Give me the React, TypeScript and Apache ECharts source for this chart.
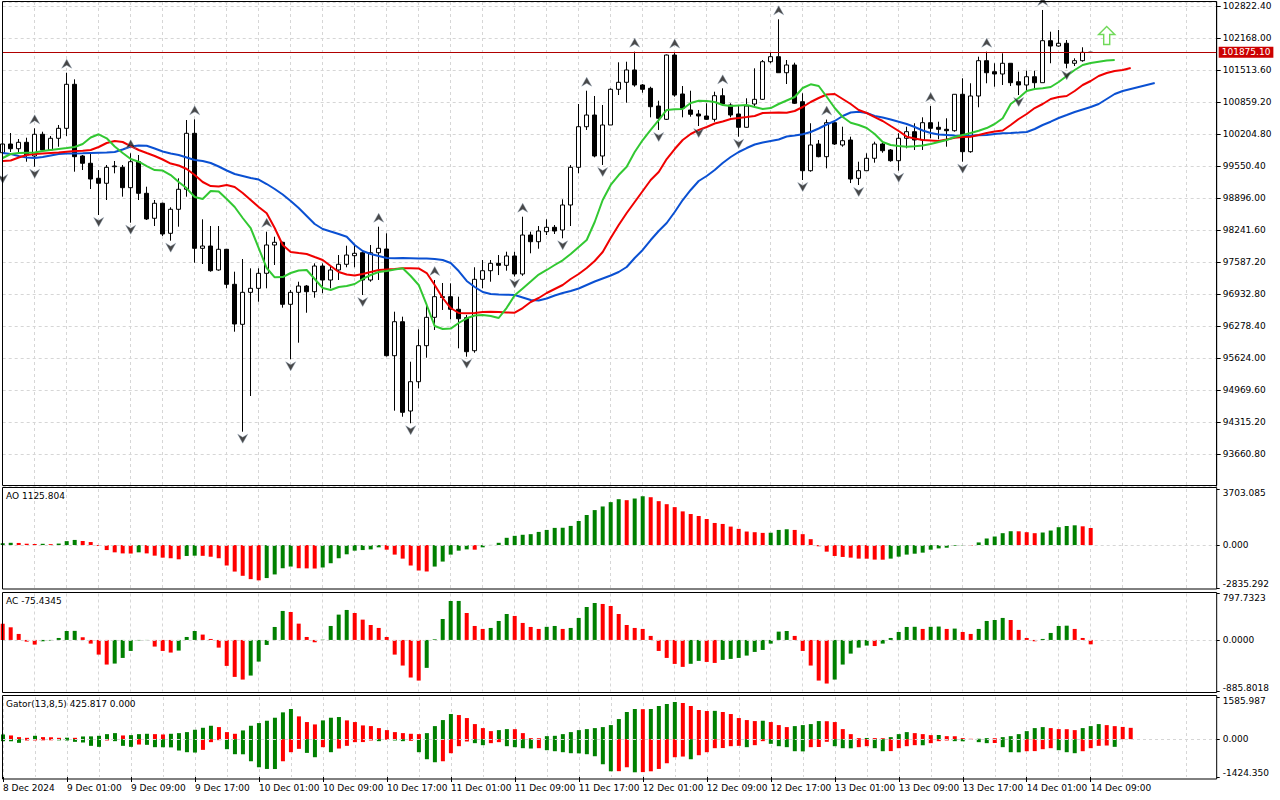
import React, { useEffect, useRef } from "react";
import * as echarts from "echarts";

// ---------- DATA ----------
const timeLabels = [
  "8 Dec 2024", "9 Dec 01:00", "9 Dec 09:00", "9 Dec 17:00", "10 Dec 01:00", "10 Dec 09:00",
  "10 Dec 17:00", "11 Dec 01:00", "11 Dec 09:00", "11 Dec 17:00", "12 Dec 01:00", "12 Dec 09:00",
  "12 Dec 17:00", "13 Dec 01:00", "13 Dec 09:00", "13 Dec 17:00", "14 Dec 01:00", "14 Dec 09:00",
];

const opens = [
  99822, 100000, 99904, 100035, 99755, 100199, 99878, 100117, 100321, 101221,
  99755, 99606, 99299, 99197, 99536, 99524, 99107, 99638, 98992, 98481,
  98788, 98174, 98665, 99074, 100219, 97867, 97914, 97424, 97847, 97131,
  96313, 96967, 97049, 97356, 97935, 97990, 96722, 96967, 97096, 96980,
  97505, 97219, 97424, 97540, 97716, 97777, 97219, 97777, 97853, 95671,
  96366, 94540, 95139, 95876, 96456, 96878, 96878, 96620, 96448, 95773,
  97233, 97409, 97560, 97519, 97710, 97342, 98139, 98002, 98207, 98297,
  98242, 98753, 99524, 100354, 100593, 99755, 100389, 101119, 101262, 101514,
  101207, 101139, 100777, 100505, 101820, 101023, 100696, 100614, 100573, 100505,
  100988, 100798, 100614, 100342, 100818, 100914, 101683, 101786, 101458, 101616,
  100865, 99454, 100000, 99741, 100436, 99980, 100082, 99299, 99454, 99708,
  100000, 99878, 99659, 100117, 100252, 100082, 100436, 100342, 100301, 100272,
  101017, 99843, 100982, 101704, 101479, 101432, 101651, 101274, 101207, 101376,
  101254, 102113, 102004, 102060, 101651, 101704, 101875.1,
];
const highs = [
  100082, 100225, 100102, 100129, 100321, 100252, 100164, 100389, 101458, 101323,
  99775, 99796, 99468, 99571, 99653, 99571, 99810, 99775, 99127, 98855,
  98800, 98706, 99299, 100491, 100505, 98460, 98323, 98323, 97853, 97389,
  97648, 97458, 97458, 98207, 98104, 98002, 97015, 97184, 97117, 97560,
  97560, 97526, 97730, 97920, 97949, 97833, 97935, 98309, 98174, 96571,
  96469, 95548, 96211, 96728, 97219, 97158, 97151, 96878, 96503, 97479,
  97628, 97628, 97730, 97798, 97798, 98513, 98207, 98323, 98460, 98344,
  98869, 99571, 100818, 101090, 100982, 100798, 101139, 101671, 101683, 101888,
  101227, 101172, 100886, 101830, 101870, 101186, 101090, 100696, 100833, 101070,
  101139, 100833, 100777, 100935, 101548, 101718, 101867, 102550, 101718, 101663,
  101037, 100424, 100082, 100500, 100470, 100354, 100150, 99638, 99810, 100047,
  100027, 99898, 100219, 100354, 100424, 100546, 100777, 100456, 100526, 101017,
  101344, 101242, 101786, 101888, 101651, 101855, 101651, 101479, 101499, 101499,
  102741, 102297, 102332, 102127, 101753, 101978, 101875.1,
];
const lows = [
  99430, 99837, 99837, 99638, 99536, 99863, 99863, 99945, 100164, 99434,
  99468, 99080, 98548, 98855, 99401, 98923, 98391, 98855, 98446, 98323,
  98119, 98023, 98309, 98923, 97573, 97546, 97389, 97409, 97049, 96162,
  94117, 94847, 96775, 97049, 97526, 96653, 95597, 95937, 96550, 96857,
  96947, 97049, 97219, 97479, 97479, 96912, 97184, 97219, 95655, 94546,
  94423, 94289, 95004, 95630, 96197, 96606, 96415, 95822, 95650, 95732,
  97049, 97184, 97320, 97409, 97290, 97305, 97765, 97859, 98139, 98160,
  98072, 98323, 99401, 100287, 99728, 99571, 100389, 101002, 100845, 101172,
  101049, 100546, 100287, 100491, 100967, 100546, 100559, 100368, 100491, 100456,
  100777, 100546, 100150, 100334, 100777, 100900, 101651, 101458, 101227, 100818,
  99264, 99434, 99728, 99503, 99980, 99945, 99202, 99162, 99454, 99618,
  99822, 99638, 99454, 99912, 99878, 99878, 100117, 100096, 99945, 100252,
  99638, 99822, 100751, 101242, 101172, 101207, 101186, 101002, 101070, 101119,
  101254, 101651, 101990, 101548, 101595, 101683, 101875.1,
];
const closes = [
  100000, 99904, 100035, 99775, 100199, 99878, 100117, 100321, 101221, 99741,
  99606, 99284, 99197, 99524, 99550, 99107, 99638, 98992, 98467, 98788,
  98160, 98665, 99074, 100219, 97867, 97914, 97409, 97847, 97131, 96319,
  96967, 97049, 97356, 97935, 97990, 96722, 96967, 97096, 96980, 97505,
  97219, 97424, 97540, 97730, 97765, 97219, 97777, 97867, 95671, 96366,
  94513, 95139, 95876, 96456, 96878, 96861, 96620, 96427, 95753, 97233,
  97409, 97560, 97519, 97710, 97342, 98139, 98002, 98221, 98297, 98221,
  98753, 99524, 100354, 100593, 99755, 100389, 101119, 101262, 101514, 101207,
  101119, 100763, 100526, 101820, 101002, 100730, 100608, 100573, 100505, 100988,
  100818, 100593, 100342, 100777, 100914, 101683, 101786, 101458, 101616, 100833,
  99454, 99980, 99741, 100436, 100000, 100068, 99284, 99454, 99708, 100000,
  99863, 99659, 100117, 100252, 100082, 100436, 100321, 100301, 100272, 101017,
  99843, 100982, 101704, 101458, 101432, 101651, 101254, 101207, 101376, 101254,
  102113, 102004, 102060, 101651, 101704, 101875.1, 101875.1,
];

// Alligator (already shifted forward: jaw +8, teeth +5, lips +3)
const jaw = [
  99816, 99796, 99755, 99724, 99714, 99734, 99765, 99796, 99806, 99806,
  99810, 99816, 99822, 99826, 99837, 99888, 99949, 99970, 99965, 99908,
  99847, 99806, 99775, 99724, 99673, 99653, 99612, 99540, 99458, 99387,
  99346, 99305, 99274, 99182, 99080, 98967, 98835, 98691, 98528, 98364,
  98262, 98211, 98160, 98104, 97935, 97812, 97751, 97710, 97669, 97663,
  97667, 97665, 97660, 97658, 97650, 97628, 97567, 97403, 97199, 97076,
  96974, 96933, 96923, 96918, 96912, 96861, 96810, 96800, 96841, 96902,
  96953, 96994, 97045, 97117, 97188, 97250, 97311, 97383, 97485, 97669,
  97833, 98037, 98221, 98385, 98610, 98855, 99060, 99244, 99346, 99469,
  99612, 99734, 99837, 99918, 99990, 100031, 100062, 100092, 100154, 100174,
  100199, 100246, 100317, 100399, 100471, 100573, 100644, 100661, 100634, 100573,
  100542, 100501, 100456, 100409, 100348, 100276, 100225, 100194, 100184, 100174,
  100170, 100174, 100180, 100184, 100205, 100219, 100225, 100235, 100246, 100307,
  100389, 100456, 100532, 100593, 100655, 100706, 100757, 100818, 100921, 101023,
  101084, 101125, 101166, 101207, 101248,
];
const teeth = [
  99652, 99663, 99724, 99775, 99796, 99806, 99816, 99826, 99843, 99857,
  99863, 99878, 99939, 100021, 100062, 100041, 99959, 99878, 99816, 99755,
  99683, 99601, 99560, 99489, 99366, 99223, 99141, 99131, 99162, 99121,
  98998, 98855, 98712, 98583, 98282, 97935, 97792, 97771, 97751, 97689,
  97628, 97505, 97383, 97331, 97311, 97342, 97383, 97424, 97434, 97444,
  97458, 97460, 97455, 97362, 97117, 96851, 96646, 96544, 96538, 96544,
  96565, 96571, 96565, 96554, 96550, 96646, 96769, 96851, 96953, 97035,
  97117, 97240, 97342, 97464, 97607, 97792, 98078, 98344, 98589, 98814,
  99039, 99264, 99428, 99693, 99898, 100082, 100205, 100287, 100348, 100419,
  100460, 100511, 100532, 100552, 100573, 100634, 100640, 100642, 100638, 100675,
  100757, 100859, 100941, 101013, 101023, 100921, 100818, 100696, 100634, 100552,
  100471, 100368, 100266, 100150, 100113, 100082, 100072, 100062, 100092, 100129,
  100143, 100150, 100184, 100225, 100256, 100276, 100389, 100511, 100614, 100736,
  100818, 100921, 100961, 100982, 101084, 101207, 101289, 101391, 101452, 101493,
  101514, 101554,
];
const lips = [
  99714, 99796, 99816, 99822, 99826, 99857, 99878, 99898, 99918, 99939,
  100000, 100133, 100199, 100117, 99949, 99816, 99693, 99638, 99550, 99468,
  99458, 99366, 99223, 99094, 98916, 98875, 99039, 99030, 98875, 98712,
  98487, 98282, 97873, 97464, 97274, 97280, 97362, 97413, 97424, 97240,
  97055, 97014, 97076, 97096, 97137, 97240, 97321, 97383, 97403, 97434,
  97458, 97301, 97117, 96708, 96278, 96217, 96225, 96340, 96436, 96493,
  96503, 96483, 96442, 96650, 96906, 97047, 97188, 97330, 97424, 97526,
  97622, 97751, 97894, 98037, 98405, 98855, 99162, 99366, 99536, 99837,
  100082, 100287, 100491, 100696, 100710, 100716, 100839, 100886, 100880, 100859,
  100798, 100777, 100788, 100798, 100757, 100716, 100736, 100818, 100890, 100961,
  101145, 101221, 101186, 100967, 100736, 100552, 100436, 100389, 100327, 100205,
  100041, 99980, 99959, 99945, 99955, 99970, 100000, 100041, 100082, 100143,
  100184, 100225, 100272, 100327, 100409, 100526, 100818, 100941, 101084, 101125,
  101139, 101166, 101268, 101391, 101514, 101616, 101657, 101683, 101708, 101718,
];

const fractalUp = [4, 8, 16, 24, 33, 47, 54, 65, 73, 79, 84, 90, 97, 103, 116, 123, 130];
const fractalDown = [0, 4, 12, 16, 21, 30, 36, 45, 51, 58, 64, 70, 75, 82, 87, 92, 100, 107, 112, 120, 127, 133];
const buySignal = [[138, 102219]];
const lastPrice = 101875.1;

const aoValues = [
  120, 150, 140, 90, 70, 85, 60, 100, 260, 340,
  270, 200, -60, -330, -480, -550, -560, -480, -550, -700,
  -830, -870, -940, -720, -700, -710, -770, -870, -1350, -1750,
  -2030, -2250, -2330, -2180, -1940, -1530, -1420, -1530, -1540, -1550,
  -1480, -1200, -870, -610, -370, -330, -285, -150, -305, -630,
  -895, -1350, -1680, -1745, -1420, -1090, -630, -370, -285, -305,
  -150, 10, 150, 480, 610, 680, 720, 870, 1000, 1135,
  1145, 1265, 1590, 1985, 2310, 2550, 2835, 3030, 2965, 3075,
  3225, 3160, 2900, 2700, 2505, 2225, 2050, 1920, 1720, 1460,
  1395, 1220, 1070, 895, 850, 805, 815, 1000, 1045, 1000,
  720, 390, -80, -435, -720, -785, -830, -895, -900, -960,
  -965, -895, -765, -630, -570, -500, -305, -220, -175, -45,
  -20, -40, 175, 435, 565, 785, 915, 910, 850, 785,
  830, 960, 1180, 1260, 1305, 1240, 1125.804,
];
const acValues = [
  280, 217, 103, -29, -80, -23, -11, 34, 154, 156,
  46, -63, -252, -423, -406, -309, -189, -8, -3, -114,
  -189, -217, -183, 51, 154, 92, 17, -132, -446, -635,
  -681, -612, -372, -86, 223, 498, 480, 280, 51, -40,
  5, 240, 435, 515, 463, 349, 257, 206, 51, -252,
  -440, -646, -698, -480, 11, 360, 669, 670, 463, 240,
  189, 206, 326, 446, 412, 292, 223, 189, 225, 240,
  189, 206, 378, 566, 635, 618, 583, 446, 257, 206,
  189, 69, -189, -309, -412, -463, -410, -360, -378, -395,
  -343, -326, -309, -269, -206, -172, -63, 143, 154, 69,
  -189, -440, -698, -749, -681, -423, -235, -132, -97, -105,
  -63, 34, 137, 223, 226, 189, 225, 230, 189, 195,
  137, 103, 189, 326, 343, 378, 343, 172, 34, -23,
  17, 120, 240, 245, 189, 34, -75.4345,
];
const gatorUpper = [
  176, 139, 76, 50, 126, 76, 70, 50, 55, 50,
  101, 105, 126, 189, 227, 139, 151, 189, 202, 189,
  176, 202, 227, 265, 353, 428, 504, 454, 265, 202,
  328, 504, 605, 693, 806, 1008, 1134, 857, 643, 554,
  706, 806, 832, 706, 643, 517, 491, 416, 340, 265,
  227, 202, 189, 227, 491, 718, 945, 907, 794, 567,
  416, 302, 340, 378, 375, 227, 38, 35, 113, 126,
  189, 265, 340, 378, 416, 454, 529, 756, 1021, 1134,
  1128, 1135, 1247, 1323, 1399, 1361, 1247, 1096, 1058, 1065,
  1021, 945, 794, 718, 680, 693, 643, 529, 454, 491,
  529, 567, 680, 675, 643, 378, 189, 38, 45, 40,
  35, 76, 189, 265, 227, 189, 151, 156, 113, 110,
  38, 13, 15, 38, 35, 76, 113, 189, 302, 416,
  454, 416, 378, 375, 340, 416, 491, 567, 528, 490,
  460, 425.817,
];
const gatorLower = [
  -76, -80, -139, -50, -48, -45, -42, -45, -50, -101,
  -126, -252, -290, -50, -76, -252, -290, -202, -214, -302,
  -305, -310, -428, -491, -504, -403, -113, -38, -378, -567,
  -570, -832, -1058, -1121, -1125, -832, -491, -365, -517, -680,
  -302, -491, -353, -252, -113, -110, -50, -76, -25, -50,
  -76, -63, -491, -756, -869, -832, -529, -265, -88, -151,
  -227, -151, -113, -265, -302, -340, -353, -340, -416, -454,
  -491, -529, -535, -567, -643, -945, -1210, -1205, -1058, -1247,
  -1240, -1210, -1121, -907, -680, -655, -756, -605, -491, -340,
  -335, -265, -252, -302, -227, -76, -176, -265, -302, -454,
  -460, -302, -295, -100, -265, -340, -345, -302, -265, -340,
  -454, -450, -340, -265, -227, -230, -151, -76, -50, -76,
  -80, -13, -113, -151, -145, -302, -491, -495, -454, -450,
  -378, -340, -416, -491, -529, -454, -340, -252, -240, -290,
];

// axis extents shown on the right scales
const priceMin = 93006.4;
const priceMax = 102904.2;
const priceStep = 654.4;
const aoRange = [-2835.292, 3703.085];
const acRange = [-885.8018, 797.7323];
const gatorRange = [-1424.35, 1585.987];

// ---------- STYLE / LAYOUT ----------
const FONT = '"DejaVu Sans", sans-serif';
const GRID_C = "#d6d6d6";
const DASH = [3, 3];
const GREEN = "#008000";
const RED = "#ff0000";
const X_MAX = 151.75;
const PLOT_LEFT = 2.7;
const PLOT_W = 1214;
const LABEL_STEP = 8;

function trendColors(vals: number[], firstUp: boolean, useAbs: boolean) {
  return vals.map((v, i) => {
    if (i === 0) return firstUp ? GREEN : RED;
    const a = useAbs ? Math.abs(v) : v;
    const b = useAbs ? Math.abs(vals[i - 1]) : vals[i - 1];
    return a > b ? GREEN : RED;
  });
}

const labelPositions = timeLabels.map((_, k) => k * LABEL_STEP);

const makeX = (gridIndex: number, bottom: boolean) => ({
  type: "value",
  gridIndex,
  position: "bottom",
  min: 0,
  max: X_MAX,
  interval: LABEL_STEP,
  axisLine: { show: false, onZero: false },
  axisTick: { show: bottom, length: 5, customValues: labelPositions, lineStyle: { color: "#000" } },
  axisLabel: {
    show: bottom,
    customValues: labelPositions,
    align: "left",
    margin: 6,
    color: "#000",
    fontSize: 9,
    fontFamily: FONT,
    formatter: (v: number) => {
      const k = Math.round(v / LABEL_STEP);
      return k >= 0 && k < timeLabels.length ? timeLabels[k] : "";
    },
  },
  splitLine: { show: true, lineStyle: { color: GRID_C, type: DASH, width: 1 } },
  minorTick: { show: false, splitNumber: 2 },
  minorSplitLine: { show: true, lineStyle: { color: GRID_C, type: DASH, width: 1 } },
});

const makeIndY = (gridIndex: number, range: number[], texts: string[]) => {
  const [mn, mx] = range;
  return {
    type: "value",
    gridIndex,
    position: "right",
    min: mn,
    max: mx,
    axisLine: { show: false, onZero: false },
    splitLine: { show: false },
    axisTick: { show: true, length: 3, customValues: [mn, 0, mx], lineStyle: { color: "#000" } },
    axisLabel: {
      customValues: [mn, 0, mx],
      color: "#000",
      fontSize: 9,
      fontFamily: FONT,
      margin: 6,
      lineHeight: 8,
      formatter: (v: number) =>
        Math.abs(v - mx) < 1e-9 ? "\n" + texts[0] : Math.abs(v - mn) < 1e-9 ? texts[2] + "\n" : texts[1],
    },
  };
};

const zeroLine = {
  silent: true,
  symbol: ["none", "none"],
  data: [{ yAxis: 0 }],
  lineStyle: { color: GRID_C, type: DASH, width: 1 },
  label: { show: false },
  emphasis: { disabled: true },
};

const frame = (y: number, h: number) => ({
  type: "rect",
  shape: { x: 2.5, y, width: 1214.2, height: h },
  style: { fill: "none", stroke: "#000", lineWidth: 1 },
  z: 100,
  silent: true,
});

const title = (text: string, top: number) => ({
  type: "text",
  left: 6,
  top,
  style: { text, fill: "#000", font: `9px ${FONT}` },
  z: 101,
  silent: true,
});

function buildOption() {
  const candleData = closes.map((c, i) => [i, opens[i], c, lows[i], highs[i]]);
  const aoColors = trendColors(aoValues, true, false);
  const acColors = trendColors(acValues, false, false);
  const guColors = trendColors(gatorUpper, true, true);
  const glColors = trendColors(gatorLower, true, true);
  const lineS = (vals: number[], color: string) => ({
    type: "line",
    xAxisIndex: 0,
    yAxisIndex: 0,
    data: vals.map((v, i) => [i, v]),
    showSymbol: false,
    symbol: "none",
    silent: true,
    lineStyle: { color, width: 2 },
    z: 3,
  });
  return {
    animation: false,
    backgroundColor: "#ffffff",
    textStyle: { fontFamily: FONT },
    grid: [
      { left: PLOT_LEFT, top: 2, width: PLOT_W, height: 484 },
      { left: PLOT_LEFT, top: 489, width: PLOT_W, height: 99 },
      { left: PLOT_LEFT, top: 593.5, width: PLOT_W, height: 98 },
      { left: PLOT_LEFT, top: 697, width: PLOT_W, height: 80 },
    ],
    xAxis: [makeX(0, false), makeX(1, false), makeX(2, false), makeX(3, true)],
    yAxis: [
      {
        type: "value",
        gridIndex: 0,
        position: "right",
        min: priceMin,
        max: priceMax,
        interval: priceStep,
        axisLine: { show: true, onZero: false, lineStyle: { color: "#000" } },
        axisTick: { show: true, length: 4, lineStyle: { color: "#000" } },
        axisLabel: {
          color: "#000",
          fontSize: 9,
          fontFamily: FONT,
          margin: 6,
          showMinLabel: false,
          showMaxLabel: false,
          formatter: (v: number) => v.toFixed(2),
        },
        splitLine: { show: true, lineStyle: { color: GRID_C, type: DASH, width: 1 } },
      },
      makeIndY(1, aoRange, ["3703.085", "0.000", "-2835.292"]),
      makeIndY(2, acRange, ["797.7323", "0.0000", "-885.8018"]),
      makeIndY(3, gatorRange, ["1585.987", "0.000", "-1424.350"]),
    ],
    graphic: [
      frame(1.5, 484),
      frame(487.5, 101.5),
      frame(592.5, 100),
      frame(695.5, 83.5),
      title("AO 1125.804", 491),
      title("AC -75.4345", 596.5),
      title("Gator(13,8,5) 425.817 0.000", 699.5),
    ],
    series: [
      {
        type: "candlestick",
        xAxisIndex: 0,
        yAxisIndex: 0,
        data: candleData,
        encode: { x: 0, y: [1, 2, 3, 4] },
        barWidth: 4,
        silent: true,
        z: 2,
        itemStyle: { color: "#ffffff", color0: "#000000", borderColor: "#000000", borderColor0: "#000000", borderWidth: 1 },
        markLine: {
          silent: true,
          symbol: ["none", "none"],
          data: [{ yAxis: lastPrice }],
          lineStyle: { color: "#b00000", type: "solid", width: 1 },
          label: {
            show: true,
            position: "end",
            distance: 2,
            formatter: lastPrice.toFixed(2),
            color: "#ffffff",
            backgroundColor: "#cc0000",
            padding: [1, 3, 1, 3],
            fontSize: 9,
            fontFamily: FONT,
          },
        },
      },
      lineS(jaw, "#0a50d2"),
      lineS(teeth, "#f00000"),
      lineS(lips, "#32c832"),
      {
        type: "scatter",
        xAxisIndex: 0,
        yAxisIndex: 0,
        data: fractalUp.map((i) => [i, highs[i]]),
        symbol: "path://M5,0 L10,9 L5,6 L0,9 Z",
        symbolSize: [10, 9],
        symbolOffset: [0, -9],
        itemStyle: { color: "#1a1a1a", borderColor: "#8a9bb0", borderWidth: 0.5 },
        silent: true,
        clip: false,
        z: 4,
      },
      {
        type: "scatter",
        xAxisIndex: 0,
        yAxisIndex: 0,
        data: fractalDown.map((i) => [i, lows[i]]),
        symbol: "path://M0,0 L5,3 L10,0 L5,9 Z",
        symbolSize: [10, 9],
        symbolOffset: [0, 7],
        itemStyle: { color: "#1a1a1a", borderColor: "#8a9bb0", borderWidth: 0.5 },
        silent: true,
        clip: false,
        z: 4,
      },
      {
        type: "scatter",
        xAxisIndex: 0,
        yAxisIndex: 0,
        data: buySignal,
        symbol: "path://M8,0 L16,8 L11,8 L11,18 L5,18 L5,8 L0,8 Z",
        symbolSize: [16, 18],
        itemStyle: { color: "#ffffff", borderColor: "#4ccf30", borderWidth: 1.5 },
        silent: true,
        z: 4,
      },
      {
        type: "bar",
        xAxisIndex: 1,
        yAxisIndex: 1,
        data: aoValues.map((v, i) => [i, v]),
        barWidth: 4,
        silent: true,
        itemStyle: { color: (p: any) => aoColors[p.dataIndex] },
        markLine: zeroLine,
      },
      {
        type: "bar",
        xAxisIndex: 2,
        yAxisIndex: 2,
        data: acValues.map((v, i) => [i, v]),
        barWidth: 4,
        silent: true,
        itemStyle: { color: (p: any) => acColors[p.dataIndex] },
        markLine: zeroLine,
      },
      {
        type: "bar",
        xAxisIndex: 3,
        yAxisIndex: 3,
        data: gatorUpper.map((v, i) => [i, v]),
        barWidth: 4,
        barGap: "-100%",
        silent: true,
        itemStyle: { color: (p: any) => guColors[p.dataIndex] },
        markLine: zeroLine,
      },
      {
        type: "bar",
        xAxisIndex: 3,
        yAxisIndex: 3,
        data: gatorLower.map((v, i) => [i, v]),
        barWidth: 4,
        barGap: "-100%",
        silent: true,
        itemStyle: { color: (p: any) => glColors[p.dataIndex] },
      },
    ],
  };
}

export default function App() {
  const ref = useRef<HTMLDivElement>(null);
  useEffect(() => {
    if (!ref.current) return;
    const chart = echarts.init(ref.current, null, { renderer: "svg", width: 1280, height: 800 });
    chart.setOption(buildOption() as any);
    return () => chart.dispose();
  }, []);
  return (
    <div
      ref={ref}
      style={{ position: "fixed", left: 0, top: 0, width: 1280, height: 800, background: "#ffffff" }}
    />
  );
}
